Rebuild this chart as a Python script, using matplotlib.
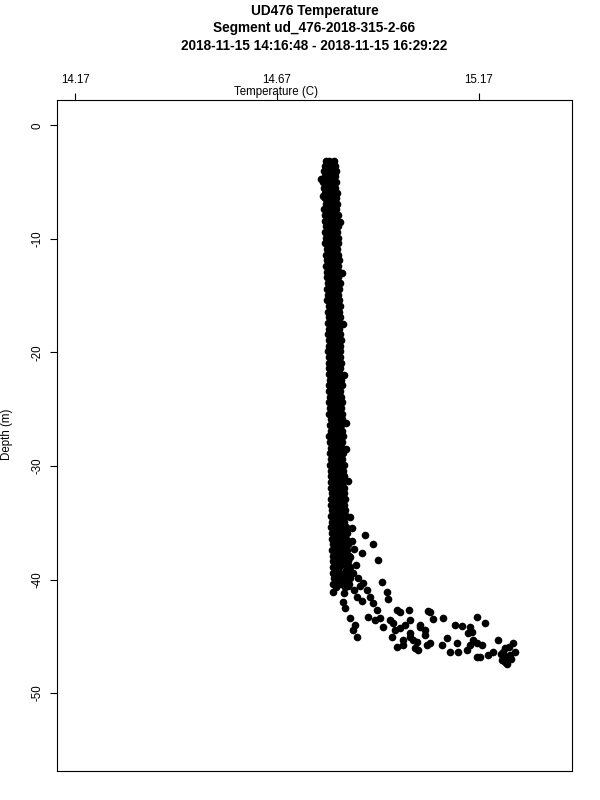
import numpy as np
import matplotlib
matplotlib.use("Agg")
from matplotlib import pyplot as plt

# ===============================
# data
# ===============================
TITLE_LINES = ["UD476 Temperature",
               "Segment ud_476-2018-315-2-66",
               "2018-11-15 14:16:48 - 2018-11-15 16:29:22"]
X_TICKS = [14.17, 14.67, 15.17]
Y_TICKS = [0, -10, -20, -30, -40, -50]

# main column: depth rows, with temperature strands
col_depth = [-3.1, -3.6, -4.0, -4.5, -5.0, -5.5, -6.0,
             -6.4, -6.9, -7.4, -7.9, -8.4, -8.9, -9.4, -9.9, -10.4, -10.9,
             -11.4, -11.9, -12.4, -12.9, -13.4, -13.9, -14.4, -14.9, -15.4, -15.9,
             -16.4, -16.9, -17.4, -17.9, -18.4, -18.9, -19.4, -19.9, -20.4, -20.9,
             -21.4, -21.9, -22.4, -22.9, -23.4, -23.9, -24.4, -24.9, -25.4, -25.9,
             -26.4, -26.9, -27.4, -27.9, -28.4, -28.9, -29.4, -29.9, -30.4, -30.9,
             -31.4, -31.9, -32.4, -32.9, -33.4, -33.9, -34.4, -34.9, -35.4, -35.9,
             -36.4, -36.9, -37.4, -37.9, -38.4, -38.9, -39.4, -39.9, -40.4]
col_temp_left = [14.791, 14.789, 14.786, 14.788, 14.785, 14.787, 14.789,
                 14.788, 14.791, 14.787, 14.790, 14.789, 14.792, 14.788, 14.791, 14.790, 14.793,
                 14.792, 14.794, 14.791, 14.795, 14.793, 14.796, 14.794, 14.797, 14.795, 14.798,
                 14.796, 14.798, 14.797, 14.799, 14.796, 14.798, 14.800, 14.797, 14.799, 14.798,
                 14.800, 14.798, 14.801, 14.799, 14.800, 14.802, 14.799, 14.801, 14.800, 14.803,
                 14.801, 14.803, 14.800, 14.802, 14.804, 14.801, 14.803, 14.802, 14.804, 14.803,
                 14.805, 14.803, 14.806, 14.804, 14.805, 14.807, 14.804, 14.806, 14.805, 14.807,
                 14.806, 14.808, 14.807, 14.809, 14.808, 14.810, 14.809, 14.811, 14.810]
col_temp_mid = [14.800, 14.803, 14.801, 14.799, 14.802, 14.800, 14.803,
                14.801, 14.804, 14.802, 14.805, 14.803, 14.806, 14.802, 14.805, 14.804, 14.806,
                14.807, 14.805, 14.808, 14.806, 14.809, 14.807, 14.810, 14.808, 14.811, 14.809,
                14.810, 14.812, 14.809, 14.811, 14.810, 14.813, 14.811, 14.812, 14.810, 14.813,
                14.812, 14.814, 14.811, 14.813, 14.815, 14.812, 14.814, 14.813, 14.815, 14.814,
                14.816, 14.814, 14.817, 14.815, 14.816, 14.818, 14.815, 14.817, 14.816, 14.818,
                14.819, 14.817, 14.820, 14.818, 14.821, 14.819, 14.822, 14.820, 14.823, 14.821,
                14.824, 14.822, 14.825, 14.823, 14.826, 14.824, 14.827, 14.825, 14.828]
col_temp_right = [14.811, 14.814, 14.816, 14.813, 14.817, 14.815, 14.818,
                  14.816, 14.819, 14.817, 14.820, 14.818, 14.821, 14.819, 14.822, 14.820, 14.818,
                  14.821, 14.823, 14.820, 14.824, 14.822, 14.825, 14.823, 14.821, 14.824, 14.826,
                  14.824, 14.827, 14.825, 14.823, 14.826, 14.828, 14.825, 14.827, 14.826, 14.829,
                  14.827, 14.825, 14.828, 14.830, 14.827, 14.829, 14.831, 14.828, 14.830, 14.832,
                  14.829, 14.831, 14.833, 14.830, 14.832, 14.834, 14.831, 14.835, 14.833, 14.836,
                  14.834, 14.837, 14.835, 14.839, 14.836, 14.838, 14.841, 14.837, 14.840, 14.843,
                  14.841, 14.845, 14.843, 14.848, 14.846, 14.850, 14.847, 14.852, 14.849]

# second set of rows, between the first ones
col_depth_b = [-3.35, -3.8, -4.25, -4.75, -5.25, -5.75, -6.2,
               -6.65, -7.15, -7.65, -8.15, -8.65, -9.15, -9.65, -10.15, -10.65, -11.15,
               -11.65, -12.15, -12.65, -13.15, -13.65, -14.15, -14.65, -15.15, -15.65, -16.15,
               -16.65, -17.15, -17.65, -18.15, -18.65, -19.15, -19.65, -20.15, -20.65, -21.15,
               -21.65, -22.15, -22.65, -23.15, -23.65, -24.15, -24.65, -25.15, -25.65, -26.15,
               -26.65, -27.15, -27.65, -28.15, -28.65, -29.15, -29.65, -30.15, -30.65, -31.15,
               -31.65, -32.15, -32.65, -33.15, -33.65, -34.15, -34.65, -35.15, -35.65, -36.15,
               -36.65, -37.15, -37.65, -38.15, -38.65, -39.15, -39.65, -40.15, -40.65]
col_temp_b1 = [14.795, 14.792, 14.794, 14.791, 14.796, 14.793, 14.795,
               14.794, 14.797, 14.795, 14.798, 14.796, 14.799, 14.795, 14.797, 14.798, 14.800,
               14.799, 14.801, 14.798, 14.802, 14.800, 14.803, 14.801, 14.803, 14.802, 14.804,
               14.803, 14.805, 14.803, 14.806, 14.804, 14.805, 14.807, 14.804, 14.806, 14.805,
               14.806, 14.805, 14.807, 14.806, 14.808, 14.806, 14.807, 14.809, 14.807, 14.808,
               14.808, 14.810, 14.807, 14.809, 14.811, 14.808, 14.810, 14.809, 14.811, 14.810,
               14.812, 14.810, 14.813, 14.811, 14.812, 14.814, 14.811, 14.813, 14.812, 14.814,
               14.813, 14.815, 14.814, 14.816, 14.815, 14.817, 14.816, 14.818, 14.817]
col_temp_b2 = [14.806, 14.809, 14.807, 14.810, 14.808, 14.811, 14.809,
               14.810, 14.812, 14.809, 14.813, 14.811, 14.814, 14.812, 14.813, 14.811, 14.814,
               14.815, 14.813, 14.816, 14.814, 14.817, 14.815, 14.816, 14.818, 14.815, 14.817,
               14.818, 14.816, 14.819, 14.817, 14.820, 14.818, 14.817, 14.819, 14.821, 14.818,
               14.820, 14.822, 14.819, 14.821, 14.823, 14.820, 14.822, 14.824, 14.821, 14.823,
               14.823, 14.825, 14.822, 14.826, 14.824, 14.827, 14.825, 14.828, 14.826, 14.829,
               14.828, 14.830, 14.827, 14.831, 14.829, 14.832, 14.830, 14.834, 14.831, 14.835,
               14.834, 14.837, 14.835, 14.839, 14.836, 14.840, 14.838, 14.842, 14.839]

# stray points off the column and the warm tail near the bottom
tail_temp = [14.780, 14.783, 14.826, 14.830, 14.833, 14.836, 14.840, 14.842, 14.846, 14.851, 14.857,
             14.855, 14.862, 14.851, 14.866, 14.858, 14.872, 14.845, 14.862, 14.835, 14.876,
             14.868, 14.880, 14.848, 14.840,
             14.888, 14.909, 14.880, 14.921, 14.930, 14.942, 14.946, 14.810, 14.834, 14.839,
             14.851, 14.863, 14.859, 14.869, 14.884, 14.892, 14.901, 14.909, 14.917, 14.925,
             14.896, 14.913, 14.934, 14.950, 14.967, 14.958, 14.963, 14.954, 14.975, 14.987,
             15.000, 14.996, 15.000, 15.024, 15.037, 15.049, 15.057, 14.967, 14.983, 15.016,
             15.041, 14.975, 15.045, 15.082, 15.165, 15.186, 15.111, 15.128, 15.148, 15.024,
             15.037, 15.000, 14.983, 15.008, 15.012, 15.020, 15.049, 15.091, 15.078, 15.099,
             15.115, 15.119, 15.144, 15.153, 15.157, 15.148, 15.140, 15.165, 15.177, 15.165,
             15.173, 15.194, 15.206, 15.219, 15.231, 15.239, 15.227, 15.256, 15.260, 15.248,
             15.235, 15.245, 15.235, 15.250, 15.225, 15.240]
tail_depth = [-4.7, -6.2, -8.5, -13.0, -17.5, -22.0, -26.2, -28.5, -31.3, -34.5, -35.5,
              -36.6, -37.3, -38.0, -38.7, -39.4, -39.9, -40.6, -40.9, -41.2, -40.6,
              -41.5, -41.9, -39.0, -37.8,
              -36.08, -36.87, -37.69, -38.28, -40.19, -41.07, -41.74, -41.07, -41.95, -42.53,
              -43.41, -44.00, -44.44, -45.08, -40.33, -40.92, -41.51, -42.09, -42.68, -43.41,
              -43.27, -43.56, -44.15, -43.56, -42.68, -43.85, -44.44, -45.03, -44.29, -44.00,
              -43.56, -42.68, -45.03, -44.15, -44.88, -42.83, -43.50, -45.91, -45.76, -45.47,
              -45.76, -42.83, -42.74, -43.41, -43.32, -43.80, -44.00, -44.09, -44.20, -44.00,
              -44.44, -44.73, -45.32, -45.32, -46.05, -46.20, -45.61, -45.17, -45.76, -46.35,
              -45.61, -46.35, -44.73, -44.59, -45.32, -45.76, -46.20, -45.61, -45.76, -46.79,
              -46.79, -46.64, -46.35, -45.32, -46.35, -46.79, -47.08, -45.61, -46.35, -46.64,
              -47.23, -45.90, -46.00, -47.00, -46.60, -47.40]

temps = np.concatenate([col_temp_left, col_temp_mid, col_temp_right,
                        col_temp_b1, col_temp_b2, tail_temp])
depths = np.concatenate([col_depth, col_depth, col_depth,
                         col_depth_b, col_depth_b, tail_depth])

# ===============================
# plot
# ===============================
plt.rcParams['font.family'] = ['Liberation Sans', 'DejaVu Sans']

fig = plt.figure(figsize=(6, 8), dpi=100)
ax = fig.add_axes([0.0955, 0.03625, 0.8573, 0.83835])

ax.plot(temps, depths, 'o', color='black', markersize=5.5, markeredgewidth=0)

ax.set_xlim(14.1254, 15.4005)
ax.set_ylim(-56.86, 2.20)

ax.xaxis.tick_top()
ax.set_xticks(X_TICKS)
ax.set_xticklabels([f"{t:.2f}" for t in X_TICKS])
ax.set_yticks(Y_TICKS)
ax.set_yticklabels([str(t) for t in Y_TICKS], rotation=90, va='center')
ax.tick_params(axis='x', length=5, width=0.8, pad=5.5, labelsize=8.3)
ax.tick_params(axis='y', length=5, width=0.8, pad=5, labelsize=8.3)
for s in ax.spines.values():
    s.set_linewidth(0.8)
    s.set_color('black')

fig.text(276.5 / 600, 1 - 91.5 / 800, "Temperature (C)", ha='center', va='center', fontsize=8.3)
fig.text(7.5 / 600, 1 - 434 / 800, "Depth (m)", ha='center', va='center', rotation=90, fontsize=8.3)

for i, line in enumerate(TITLE_LINES):
    fig.text(314.5 / 600, 1 - (11 + 17.3 * i) / 800, line, ha='center', va='center',
             fontsize=9.8, fontweight='bold')

fig.savefig("out.png", dpi=100)
